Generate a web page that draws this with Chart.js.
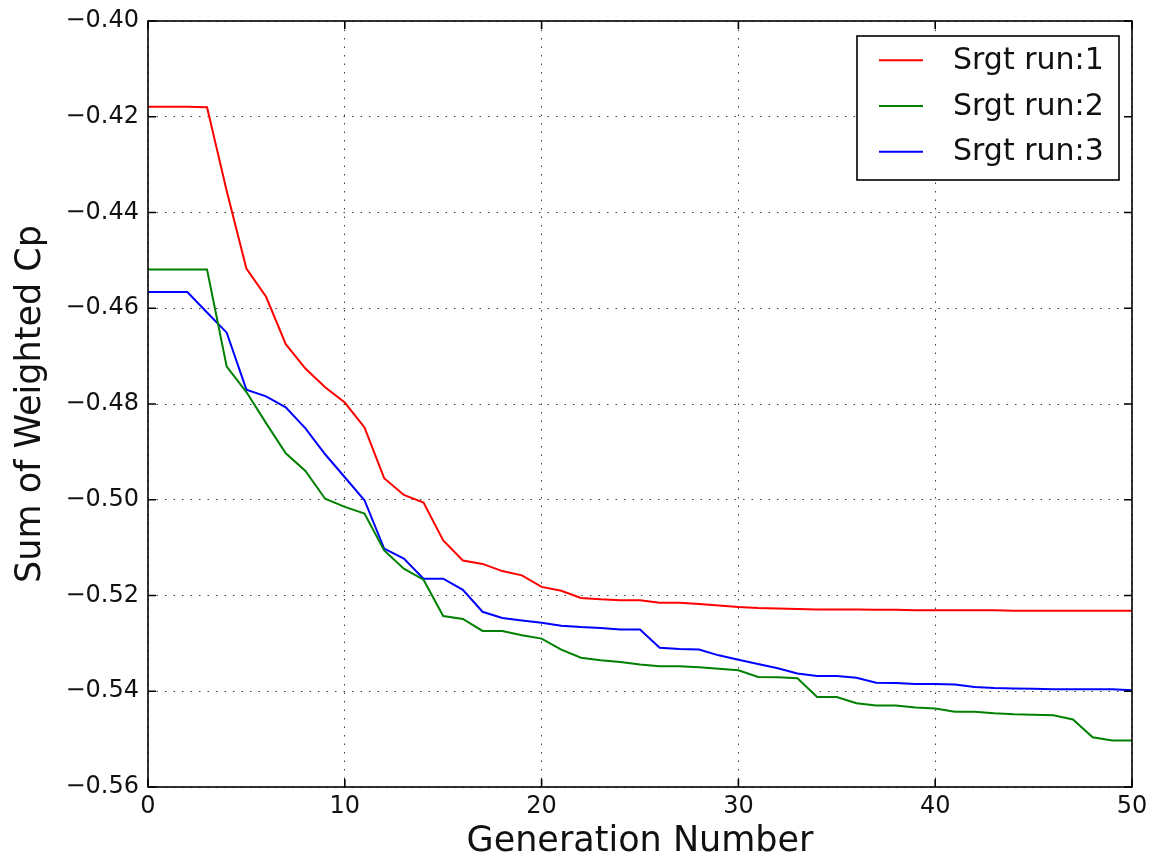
<!DOCTYPE html>
<html>
<head>
<meta charset="utf-8">
<script src="https://cdn.jsdelivr.net/npm/chart.js@4/dist/chart.umd.min.js"></script>
<style>
  html, body { margin: 0; padding: 0; background: #fff; }
  #wrap { width: 1152px; height: 865px; }
</style>
</head>
<body>
<div id="wrap"><canvas id="c" width="1152" height="865"></canvas></div>
<script>
const generations = [0,1,2,3,4,5,6,7,8,9,10,11,12,13,14,15,16,17,18,19,20,21,22,23,24,25,26,27,28,29,30,31,32,33,34,35,36,37,38,39,40,41,42,43,44,45,46,47,48,49,50];

const run1 = [-0.4179,-0.4179,-0.4179,-0.4180,-0.4355,-0.4517,-0.4576,-0.4675,-0.4726,-0.4765,
  -0.4797,-0.4849,-0.4955,-0.4990,-0.5006,-0.5085,-0.5127,-0.5134,-0.5149,-0.5158,
  -0.5182,-0.5190,-0.5205,-0.5208,-0.5210,-0.5210,-0.5215,-0.5215,-0.5218,-0.5221,
  -0.5224,-0.5226,-0.5227,-0.5228,-0.5229,-0.5229,-0.5229,-0.5230,-0.5230,-0.5231,
  -0.5231,-0.5231,-0.5231,-0.5231,-0.5232,-0.5232,-0.5232,-0.5232,-0.5232,-0.5232,-0.5232];

const run2 = [-0.4519,-0.4519,-0.4519,-0.4519,-0.4722,-0.4775,-0.4840,-0.4903,-0.4940,-0.4998,
  -0.5015,-0.5029,-0.5106,-0.5144,-0.5167,-0.5243,-0.5249,-0.5274,-0.5274,-0.5283,
  -0.5290,-0.5313,-0.5330,-0.5335,-0.5339,-0.5344,-0.5348,-0.5348,-0.5350,-0.5353,
  -0.5356,-0.5370,-0.5371,-0.5373,-0.5412,-0.5412,-0.5425,-0.5430,-0.5430,-0.5434,
  -0.5436,-0.5443,-0.5443,-0.5446,-0.5448,-0.5449,-0.5450,-0.5459,-0.5496,-0.5503,-0.5503];

const run3 = [-0.4566,-0.4566,-0.4566,-0.4609,-0.4651,-0.4770,-0.4784,-0.4807,-0.4851,-0.4905,
  -0.4953,-0.5001,-0.5102,-0.5123,-0.5165,-0.5165,-0.5188,-0.5234,-0.5247,-0.5252,
  -0.5257,-0.5263,-0.5266,-0.5268,-0.5271,-0.5271,-0.5309,-0.5312,-0.5313,-0.5325,
  -0.5334,-0.5343,-0.5352,-0.5363,-0.5368,-0.5368,-0.5372,-0.5382,-0.5383,-0.5385,
  -0.5385,-0.5386,-0.5391,-0.5393,-0.5394,-0.5395,-0.5396,-0.5396,-0.5396,-0.5396,-0.5398];

const seriesLabels = ['Srgt run:1', 'Srgt run:2', 'Srgt run:3'];
const seriesColors = ['#ff0000', '#008000', '#0000ff'];
const seriesValues = [run1, run2, run3];

const xTitle = 'Generation Number';
const yTitle = 'Sum of Weighted Cp';

const FONT = "'DejaVu Sans', 'Liberation Sans', sans-serif";

function fmtY(v) {
  const s = Number(v).toFixed(2);
  return s.replace('-', '\u2212');
}

const framePlugin = {
  id: 'frameTicks',
  afterDraw(chart) {
    const ctx = chart.ctx;
    const a = chart.chartArea;
    const xs = chart.scales.x, ys = chart.scales.y;
    ctx.save();
    ctx.strokeStyle = '#000';
    ctx.lineWidth = 1.6;
    ctx.strokeRect(a.left, a.top, a.right - a.left, a.bottom - a.top);
    const tl = 8;
    ctx.beginPath();
    xs.ticks.forEach(t => {
      const px = xs.getPixelForValue(t.value);
      ctx.moveTo(px, a.bottom); ctx.lineTo(px, a.bottom - tl);
      ctx.moveTo(px, a.top); ctx.lineTo(px, a.top + tl);
    });
    ys.ticks.forEach(t => {
      const py = ys.getPixelForValue(t.value);
      ctx.moveTo(a.left, py); ctx.lineTo(a.left + tl, py);
      ctx.moveTo(a.right, py); ctx.lineTo(a.right - tl, py);
    });
    ctx.stroke();

    // legend
    const bx = a.right - 275, by = a.top + 15, bw = 262, bh = 144;
    ctx.fillStyle = '#fff';
    ctx.fillRect(bx, by, bw, bh);
    ctx.lineWidth = 1.6;
    ctx.strokeStyle = '#000';
    ctx.strokeRect(bx, by, bw, bh);
    ctx.font = '30px ' + FONT;
    ctx.textBaseline = 'middle';
    ctx.textAlign = 'left';
    chart.data.datasets.forEach((ds, i) => {
      const ry = by + 24.3 + i * 45.7;
      ctx.strokeStyle = ds.borderColor;
      ctx.lineWidth = 2;
      ctx.beginPath();
      ctx.moveTo(bx + 22, ry); ctx.lineTo(bx + 66, ry);
      ctx.stroke();
      ctx.fillStyle = '#111';
      ctx.fillText(ds.label, bx + 96, ry + 1);
    });
    ctx.restore();
  }
};

new Chart(document.getElementById('c'), {
  type: 'line',
  data: {
    datasets: seriesLabels.map((lab, i) => ({
      label: lab,
      data: generations.map((g, j) => ({ x: g, y: seriesValues[i][j] })),
      borderColor: seriesColors[i],
      backgroundColor: seriesColors[i],
      borderWidth: 2,
      pointRadius: 0,
      tension: 0,
      fill: false
    }))
  },
  options: {
    responsive: false,
    animation: false,
    devicePixelRatio: 1,
    layout: { padding: { top: 20, right: 20, left: 0, bottom: 0 } },
    plugins: { legend: { display: false }, tooltip: { enabled: false } },
    scales: {
      x: {
        type: 'linear',
        min: 0, max: 50,
        ticks: { stepSize: 10, color: '#111', font: { family: FONT, size: 24, lineHeight: 1 }, padding: 8, maxRotation: 0 },
        grid: { drawTicks: false, color: 'rgba(0,0,0,0.75)', lineWidth: 1 },
        border: { display: false, dash: [1.5, 7] },
        title: { display: true, text: xTitle, color: '#111', font: { family: FONT, size: 35, lineHeight: 1 }, padding: { top: 0, bottom: 6 } },
        afterFit(s) { s.height = 78; s.paddingLeft = 0; s.paddingRight = 0; }
      },
      y: {
        type: 'linear',
        min: -0.56, max: -0.40,
        ticks: { stepSize: 0.02, color: '#111', font: { family: FONT, size: 24, lineHeight: 1 }, padding: 9, callback: v => fmtY(v) },
        grid: { drawTicks: false, color: 'rgba(0,0,0,0.75)', lineWidth: 1 },
        border: { display: false, dash: [1.5, 7] },
        title: { display: true, text: yTitle, color: '#111', font: { family: FONT, size: 35, lineHeight: 1 }, padding: { top: 13, bottom: 0 } },
        afterFit(s) { s.width = 148; }
      }
    }
  },
  plugins: [framePlugin]
});
</script>
</body>
</html>
